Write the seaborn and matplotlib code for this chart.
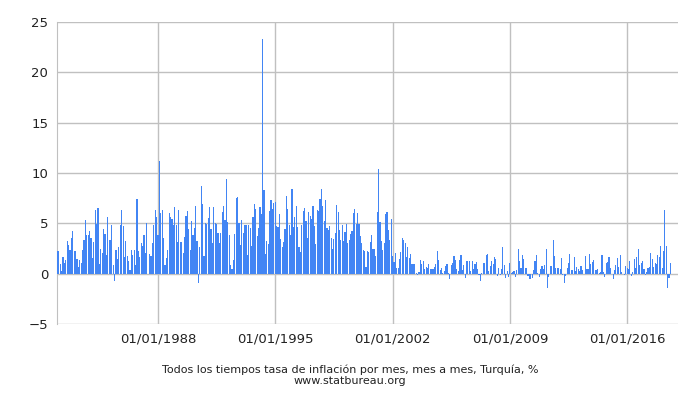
import numpy as np
import pandas as pd
import matplotlib
matplotlib.use("Agg")
import matplotlib.pyplot as plt
import matplotlib.dates as mdates
import seaborn as sns

v1982_1993 = [2.3,2.3,1,0.3,1.7,1.1,1.4,3.2,2.8,2.4,3.5,4.2,
 2.3,2.3,1.5,0.7,1.4,1.1,2.4,3.3,5.3,3.8,3.8,4.2,
 3.5,1.6,3.1,6.3,4.9,6.5,1,2.5,2.1,4.4,3.9,1.9,
 5.6,3.3,3.3,4.8,0.9,-0.7,2.4,1.5,2.6,4.8,6.3,4.7,
 1.7,3.2,1.8,1.3,0.4,2.4,1.9,2.4,0.9,7.4,2.3,1.7,
 3,2.7,3.8,2.1,5,0,2,1.8,3,4.8,6.3,5.6,
 3.8,11.2,6,6.3,3.5,0.9,1.6,2.4,6,5.6,5.4,4.8,
 6.6,4.8,3.1,6.3,3.1,3.1,2.1,3.6,5.7,6.2,4.4,2.4,
 5.2,3.8,4.5,6.7,3.2,-0.9,2.6,8.7,6.9,1.8,5,4.9,
 5.5,6.6,4.4,3,6.6,5,4.9,4,3,4,6.1,6.7,
 5.3,9.4,5.1,3.8,0.9,0.5,1.4,3.9,7.5,7.6,5,2.8,
 5.3,4,4.8,4.8,1.9,4.8,4.5,2.7,5.6,6.9,6.4,3.7]
v1994_2006 = [4.5,6.6,5.9,23.3,8.3,2,3.2,2.9,6.2,7.3,6.4,7,7.1,4.7,4.6,5.9,3.4,2.6,
 3.1,4.4,7.7,6.4,4.8,3.8,8.4,4.6,5.6,6.7,4.6,2.6,2.2,4.8,6.2,6.5,5.2,3.5,6.1,5.7,
 5.4,6.7,4.7,2.9,6.3,6.2,7.4,8.4,6.7,5.2,7.3,4.5,4.3,4.7,3.5,2.5,3.4,4,6.8,6.1,
 4.3,3.3,4.8,3.2,4.1,4.9,3,3.3,3.9,4.2,6,6.4,4.9,6,4.9,3.7,3,2.4,2.3,0.7,2.3,2.2,
 3.1,3.8,2.5,2.5,1.8,6.1,10.4,5.1,3.2,2.4,3,5.9,6.1,4.3,3.3,5.4,1.8,1.2,2.1,0.6,
 0.6,1.5,2.2,3.5,3.3,3,1.7,2.6,1.6,2,1,1,1,0.1,-0.1,0.2,1.4,1,1.3,0.5,0.7,0.6,1,
 0.5,0.5,0.5,0.7,1,2.3,1.4,0.4,0.6,0.1,0.3,0.8,1,0.1,-0.5,0.9,1.1,1.8,1.4,0.5]
v2007_2019 = [0.3,1.4,1.9,0.4,0.9,-0.4,1.3,1.3,1.3,0.3,1.3,0.5,1,1.2,0.5,-0.1,-0.7,0.1,
 1.1,1.1,1.9,2,0.3,0.8,1.3,1,1.7,1.5,-0.2,0.6,-0.1,0.5,2.6,0.9,-0.4,0.3,-0.3,1.1,
 0.1,0.2,0.3,-0.3,0.4,2.5,1.3,0.6,1.9,1.5,0.6,0.6,-0.2,-0.5,-0.5,-0.4,0.4,1.3,1.9,
 0.1,-0.3,0.5,0.8,0.5,0.9,2.5,-1.4,-0.3,0.8,0.8,3.3,1.8,0.6,0.6,0.6,0.5,1.6,-0.1,
 -0.9,-0.2,0.6,1.1,2,0.4,0.4,1.7,0.3,0.7,0.5,0.3,0.8,0.4,0,1.8,0.5,0.5,2,1,1.2,1.4,
 0.4,0.4,0.5,0.1,0.2,1.9,0.2,-0.3,1.1,1.2,1.7,0.6,0,-0.5,0.4,0.9,1.6,0.7,1.9,0.2,0,
 -0.1,0.8,0.6,0.5,1.3,-0.2,0.2,1.5,0.6,1.7,2.5,0.9,1.1,1.3,0.5,-0.1,0.2,0.6,0.7,2.1,
 1.5,0.7,1.1,1,1.9,1.7,2.7,0.6,2.3,6.3,2.7,-1.4,-0.4,1.1]
values = v1982_1993 + v1994_2006 + v2007_2019
dates = pd.date_range("1982-01-01", periods=len(values), freq="MS")
df = pd.DataFrame({"date": dates, "value": values})

tick_labels = ["01/01/1988", "01/01/1995", "01/01/2002", "01/01/2009", "01/01/2016"]
yticks = [-5, 0, 5, 10, 15, 20, 25]

sns.set_style("white")
fig = plt.figure(figsize=(7, 4), dpi=100)
ax = fig.add_axes([0.081, 0.19, 0.888, 0.755])
ax.bar(df["date"], df["value"], width=25, color="#4285f4", linewidth=0, zorder=3)
ax.set_ylim(-5, 25)
ax.set_xlim(pd.Timestamp("1981-12-15"), pd.Timestamp("2019-01-20"))
ax.set_yticks(yticks)
ax.set_xticks([pd.to_datetime(t, dayfirst=True) for t in tick_labels])
ax.set_xticklabels(tick_labels)
ax.grid(True, color="#c0c0c0", linewidth=1, zorder=0)
for s in ["top", "right", "bottom"]:
    ax.spines[s].set_visible(False)
ax.spines["left"].set_color("#c0c0c0")
ax.tick_params(axis="both", length=0, labelsize=9.5, colors="#222222", pad=6)
fig.text(0.5, 0.067, "Todos los tiempos tasa de inflación por mes, mes a mes, Turquía, %",
         ha="center", fontsize=8, color="#222222")
fig.text(0.5, 0.04, "www.statbureau.org", ha="center", fontsize=8, color="#222222")
fig.savefig("out.png", dpi=100)
